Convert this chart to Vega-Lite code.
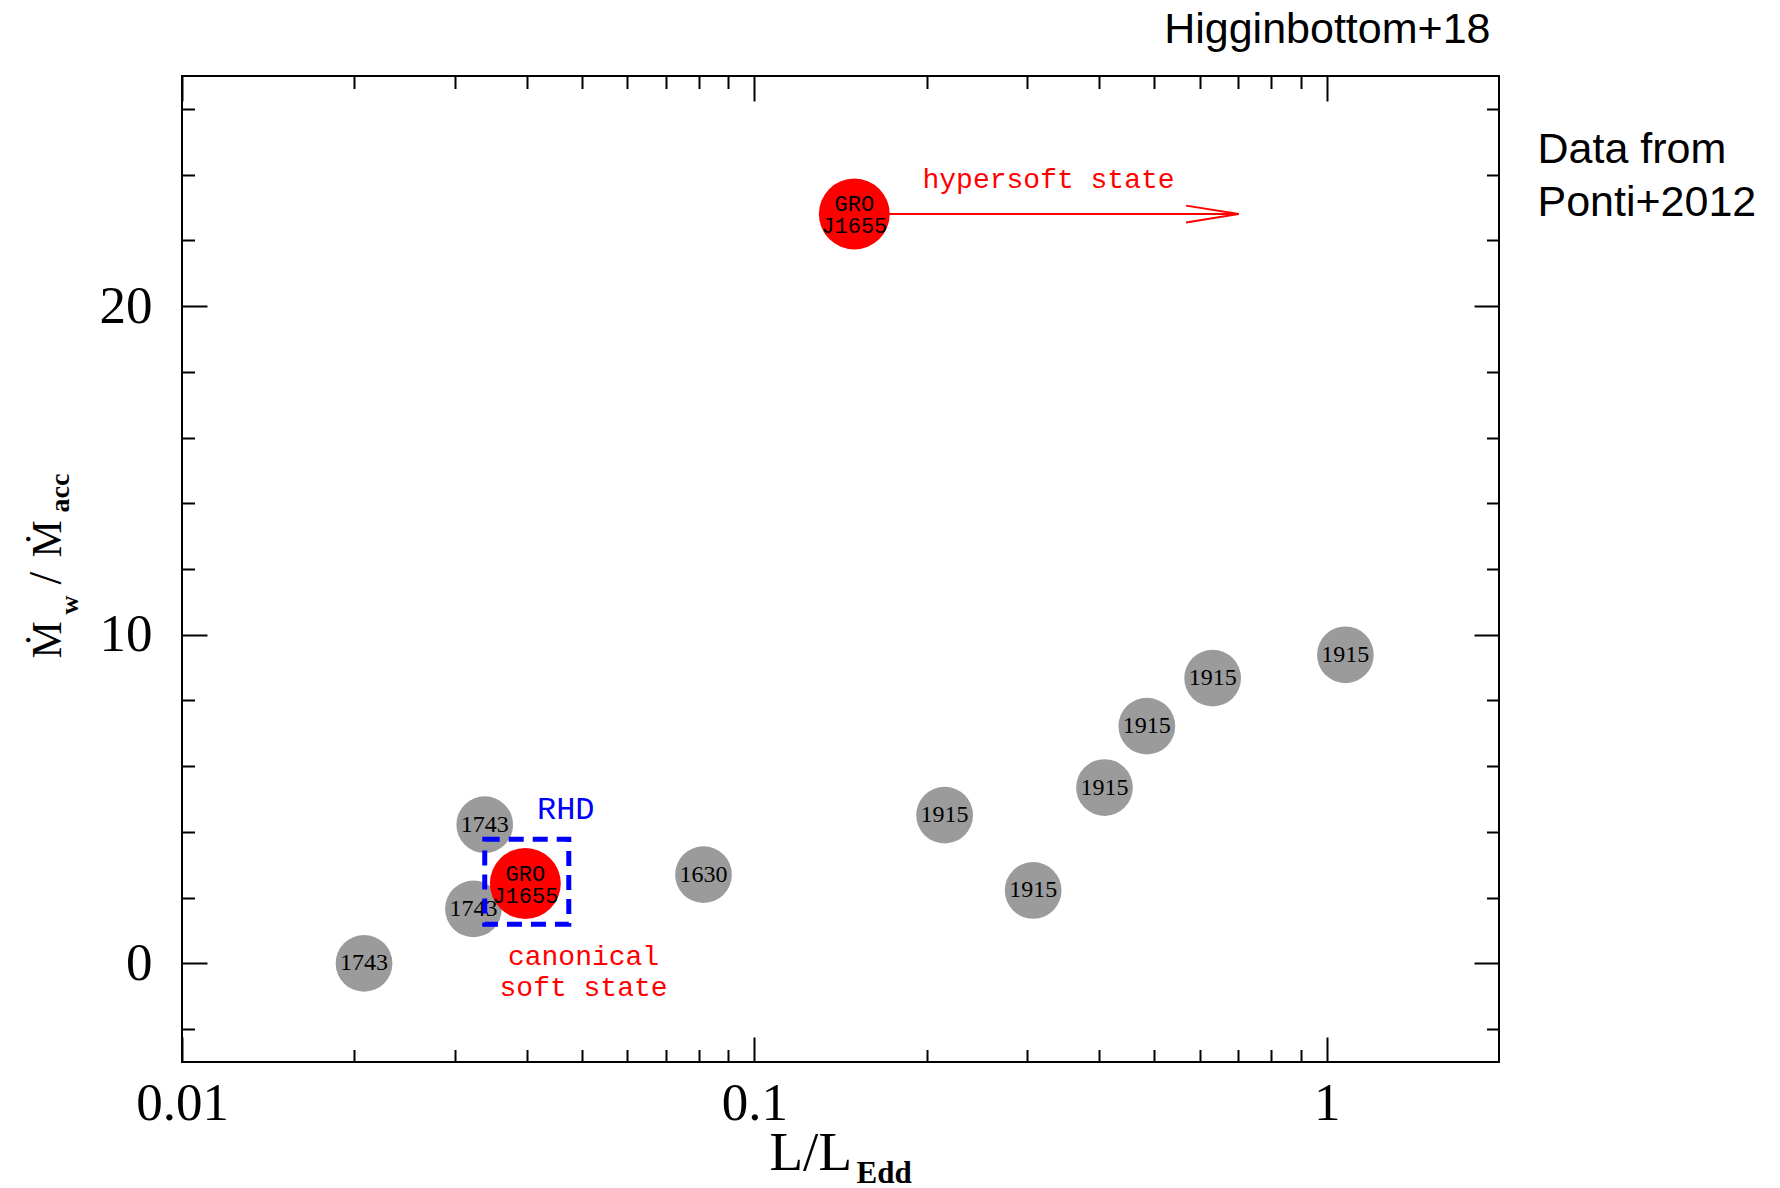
{
  "$schema": "https://vega.github.io/schema/vega-lite/v6.json",
  "width": 1317,
  "height": 986,
  "autosize": {"type": "none"},
  "padding": {"left": 182, "top": 76, "right": 281, "bottom": 126},
  "background": "white",
  "config": {
    "view": {"stroke": "black", "strokeWidth": 2},
    "axis": {
      "grid": false,
      "domain": false,
      "tickColor": "black",
      "tickWidth": 2,
      "labelFont": "Liberation Serif",
      "labelColor": "black",
      "labelFlush": false,
      "labelOverlap": false,
      "labelBound": false,
      "titleFont": "Liberation Serif, DejaVu Serif",
      "titleColor": "black",
      "titleFontWeight": "normal",
      "titlePadding": 0
    }
  },
  "datasets": {
    "wind": [
      {"source": "1743", "lum": 0.0208, "ratio": 0.0},
      {"source": "1743", "lum": 0.0323, "ratio": 1.66},
      {"source": "1743", "lum": 0.0338, "ratio": 4.22},
      {"source": "1630", "lum": 0.0815, "ratio": 2.7},
      {"source": "1915", "lum": 0.215, "ratio": 4.51},
      {"source": "1915", "lum": 0.307, "ratio": 2.22},
      {"source": "1915", "lum": 0.409, "ratio": 5.35},
      {"source": "1915", "lum": 0.485, "ratio": 7.22},
      {"source": "1915", "lum": 0.632, "ratio": 8.68},
      {"source": "1915", "lum": 1.078, "ratio": 9.39}
    ],
    "gro": [
      {"source": "GRO\nJ1655", "state": "canonical", "lum": 0.0398, "ratio": 2.43},
      {"source": "GRO\nJ1655", "state": "hypersoft", "lum": 0.1495, "ratio": 22.8}
    ],
    "arrow": [
      {"lum": 0.1495, "lum_end": 0.7017, "ratio": 22.8}
    ],
    "rhd": [
      {"lum": 0.0338, "lum_end": 0.0474, "ratio": 1.19, "ratio_end": 3.78}
    ]
  },
  "resolve": {"axis": {"x": "independent", "y": "independent"}},
  "layer": [
    {
      "data": {"name": "arrow"},
      "mark": {"type": "rule", "color": "#ff0000", "strokeWidth": 2},
      "encoding": {
        "x": {
          "field": "lum", "type": "quantitative",
          "scale": {"type": "log", "domain": [0.01, 2], "nice": false},
          "axis": {
            "orient": "bottom", "values": [0.01, 0.1, 1], "format": "~g",
            "ticks": false, "labels": true, "labelPadding": 15,
            "labelFontSize": 53, "labelBaseline": "top",
            "title": "L/L", "titleFontSize": 55, "titleAngle": 0,
            "titleAlign": "left", "titleBaseline": "alphabetic",
            "titleX": 587, "titleY": 107
          }
        },
        "x2": {"field": "lum_end"},
        "y": {
          "field": "ratio", "type": "quantitative",
          "scale": {"domain": [-3, 27], "nice": false, "zero": false},
          "axis": {
            "orient": "left", "values": [0, 10, 20], "format": "d",
            "ticks": false, "labels": true, "labelPadding": 30,
            "labelFontSize": 53,
            "title": "Ṁ", "titleFontSize": 42, "titleAngle": 270,
            "titleAlign": "left", "titleBaseline": "alphabetic",
            "titleX": -122, "titleY": 582
          }
        }
      }
    },
    {
      "data": {"name": "arrow"},
      "mark": {
        "type": "point", "shape": "M-2,-0.32L0,0L-2,0.32", "size": 2767,
        "filled": false, "stroke": "#ff0000", "strokeWidth": 2, "opacity": 1
      },
      "encoding": {
        "x": {
          "field": "lum_end", "type": "quantitative",
          "scale": {"type": "log", "domain": [0.01, 2], "nice": false},
          "axis": {
            "orient": "bottom", "values": [0.01, 0.1, 1],
            "labels": false, "ticks": true, "tickSize": -25, "title": null
          }
        },
        "y": {
          "field": "ratio", "type": "quantitative",
          "scale": {"domain": [-3, 27], "nice": false, "zero": false},
          "axis": {
            "orient": "left", "values": [0, 10, 20],
            "labels": false, "ticks": true, "tickSize": -25,
            "title": "w", "titleFontSize": 26, "titleFontWeight": "bold",
            "titleAngle": 270, "titleAlign": "left", "titleBaseline": "alphabetic",
            "titleX": -105, "titleY": 538
          }
        }
      }
    },
    {
      "data": {"name": "wind"},
      "mark": {"type": "circle", "size": 3217, "color": "#9b9b9b", "opacity": 1},
      "encoding": {
        "x": {
          "field": "lum", "type": "quantitative",
          "scale": {"type": "log", "domain": [0.01, 2], "nice": false},
          "axis": {
            "orient": "bottom",
            "values": [0.02, 0.03, 0.04, 0.05, 0.06, 0.07, 0.08, 0.09, 0.2, 0.3, 0.4, 0.5, 0.6, 0.7, 0.8, 0.9],
            "labels": false, "ticks": true, "tickSize": -12.5,
            "title": "Edd", "titleFontSize": 31, "titleFontWeight": "bold",
            "titleAngle": 0, "titleAlign": "left", "titleBaseline": "alphabetic",
            "titleX": 674, "titleY": 120
          }
        },
        "y": {
          "field": "ratio", "type": "quantitative",
          "scale": {"domain": [-3, 27], "nice": false, "zero": false},
          "axis": {
            "orient": "left",
            "values": [-2, 2, 4, 6, 8, 12, 14, 16, 18, 22, 24, 26],
            "labels": false, "ticks": true, "tickSize": -12.5,
            "title": "/", "titleFontSize": 46,
            "titleAngle": 270, "titleAlign": "left", "titleBaseline": "alphabetic",
            "titleX": -122, "titleY": 508
          }
        }
      }
    },
    {
      "data": {"name": "wind"},
      "mark": {"type": "text", "font": "Liberation Serif", "fontSize": 24, "color": "black", "align": "center", "baseline": "middle"},
      "encoding": {
        "x": {
          "field": "lum", "type": "quantitative",
          "scale": {"type": "log", "domain": [0.01, 2], "nice": false},
          "axis": {
            "orient": "top", "values": [0.01, 0.1, 1],
            "labels": false, "ticks": true, "tickSize": -25,
            "title": "Higginbottom+18", "titleFont": "Liberation Sans",
            "titleFontSize": 43, "titleAngle": 0,
            "titleAlign": "right", "titleBaseline": "alphabetic",
            "titleX": 1308, "titleY": -34
          }
        },
        "y": {
          "field": "ratio", "type": "quantitative",
          "scale": {"domain": [-3, 27], "nice": false, "zero": false},
          "axis": {
            "orient": "right", "values": [0, 10, 20],
            "labels": false, "ticks": true, "tickSize": -25, "title": null
          }
        },
        "text": {"field": "source"}
      }
    },
    {
      "data": {"name": "rhd"},
      "mark": {
        "type": "rect", "fill": "transparent", "stroke": "#0000ff",
        "strokeWidth": 5, "strokeDash": [15, 9]
      },
      "encoding": {
        "x": {
          "field": "lum", "type": "quantitative",
          "scale": {"type": "log", "domain": [0.01, 2], "nice": false},
          "axis": {
            "orient": "top",
            "values": [0.02, 0.03, 0.04, 0.05, 0.06, 0.07, 0.08, 0.09, 0.2, 0.3, 0.4, 0.5, 0.6, 0.7, 0.8, 0.9],
            "labels": false, "ticks": true, "tickSize": -12.5, "title": null
          }
        },
        "x2": {"field": "lum_end"},
        "y": {
          "field": "ratio", "type": "quantitative",
          "scale": {"domain": [-3, 27], "nice": false, "zero": false},
          "axis": {
            "orient": "right",
            "values": [-2, 2, 4, 6, 8, 12, 14, 16, 18, 22, 24, 26],
            "labels": false, "ticks": true, "tickSize": -12.5,
            "title": ["Data from", "Ponti+2012"],
            "titleFont": "Liberation Sans", "titleFontSize": 43,
            "titleLineHeight": 53, "titleAngle": 0,
            "titleAlign": "left", "titleBaseline": "alphabetic",
            "titleX": 38, "titleY": 86
          }
        },
        "y2": {"field": "ratio_end"}
      }
    },
    {
      "data": {"name": "gro"},
      "mark": {"type": "circle", "size": 5027, "color": "#ff0000", "opacity": 1},
      "encoding": {
        "x": {
          "field": "lum", "type": "quantitative",
          "scale": {"type": "log", "domain": [0.01, 2], "nice": false},
          "axis": null
        },
        "y": {
          "field": "ratio", "type": "quantitative",
          "scale": {"domain": [-3, 27], "nice": false, "zero": false},
          "axis": {
            "orient": "left", "values": [],
            "labels": false, "ticks": false,
            "title": "Ṁ", "titleFontSize": 42,
            "titleAngle": 270, "titleAlign": "left", "titleBaseline": "alphabetic",
            "titleX": -122, "titleY": 481
          }
        }
      }
    },
    {
      "data": {"name": "gro"},
      "mark": {
        "type": "text", "font": "Liberation Mono", "fontSize": 22, "lineHeight": 22,
        "lineBreak": "\n", "color": "black", "align": "center", "baseline": "middle", "dy": -10
      },
      "encoding": {
        "x": {
          "field": "lum", "type": "quantitative",
          "scale": {"type": "log", "domain": [0.01, 2], "nice": false},
          "axis": null
        },
        "y": {
          "field": "ratio", "type": "quantitative",
          "scale": {"domain": [-3, 27], "nice": false, "zero": false},
          "axis": {
            "orient": "left", "values": [],
            "labels": false, "ticks": false,
            "title": "acc", "titleFontSize": 28, "titleFontWeight": "bold",
            "titleAngle": 270, "titleAlign": "left", "titleBaseline": "alphabetic",
            "titleX": -114, "titleY": 436
          }
        },
        "text": {"field": "source"}
      }
    },
    {
      "data": {"values": [{"note": "hypersoft state", "lum": 0.1967, "ratio": 23.6}]},
      "mark": {"type": "text", "font": "Liberation Mono", "fontSize": 28, "color": "#ff0000", "align": "left", "baseline": "alphabetic"},
      "encoding": {
        "x": {"field": "lum", "type": "quantitative", "scale": {"type": "log", "domain": [0.01, 2], "nice": false}, "axis": null},
        "y": {"field": "ratio", "type": "quantitative", "scale": {"domain": [-3, 27], "nice": false, "zero": false}, "axis": null},
        "text": {"field": "note"}
      }
    },
    {
      "data": {"values": [{"note": "RHD", "lum": 0.0417, "ratio": 4.4}]},
      "mark": {"type": "text", "font": "Liberation Mono", "fontSize": 32, "color": "#0000ff", "align": "left", "baseline": "alphabetic"},
      "encoding": {
        "x": {"field": "lum", "type": "quantitative", "scale": {"type": "log", "domain": [0.01, 2], "nice": false}, "axis": null},
        "y": {"field": "ratio", "type": "quantitative", "scale": {"domain": [-3, 27], "nice": false, "zero": false}, "axis": null},
        "text": {"field": "note"}
      }
    },
    {
      "data": {"values": [{"note": "canonical\nsoft state", "lum": 0.0503, "ratio": -0.05}]},
      "mark": {"type": "text", "font": "Liberation Mono", "fontSize": 28, "lineHeight": 31, "lineBreak": "\n", "color": "#ff0000", "align": "center", "baseline": "alphabetic"},
      "encoding": {
        "x": {"field": "lum", "type": "quantitative", "scale": {"type": "log", "domain": [0.01, 2], "nice": false}, "axis": null},
        "y": {"field": "ratio", "type": "quantitative", "scale": {"domain": [-3, 27], "nice": false, "zero": false}, "axis": null},
        "text": {"field": "note"}
      }
    }
  ]
}
